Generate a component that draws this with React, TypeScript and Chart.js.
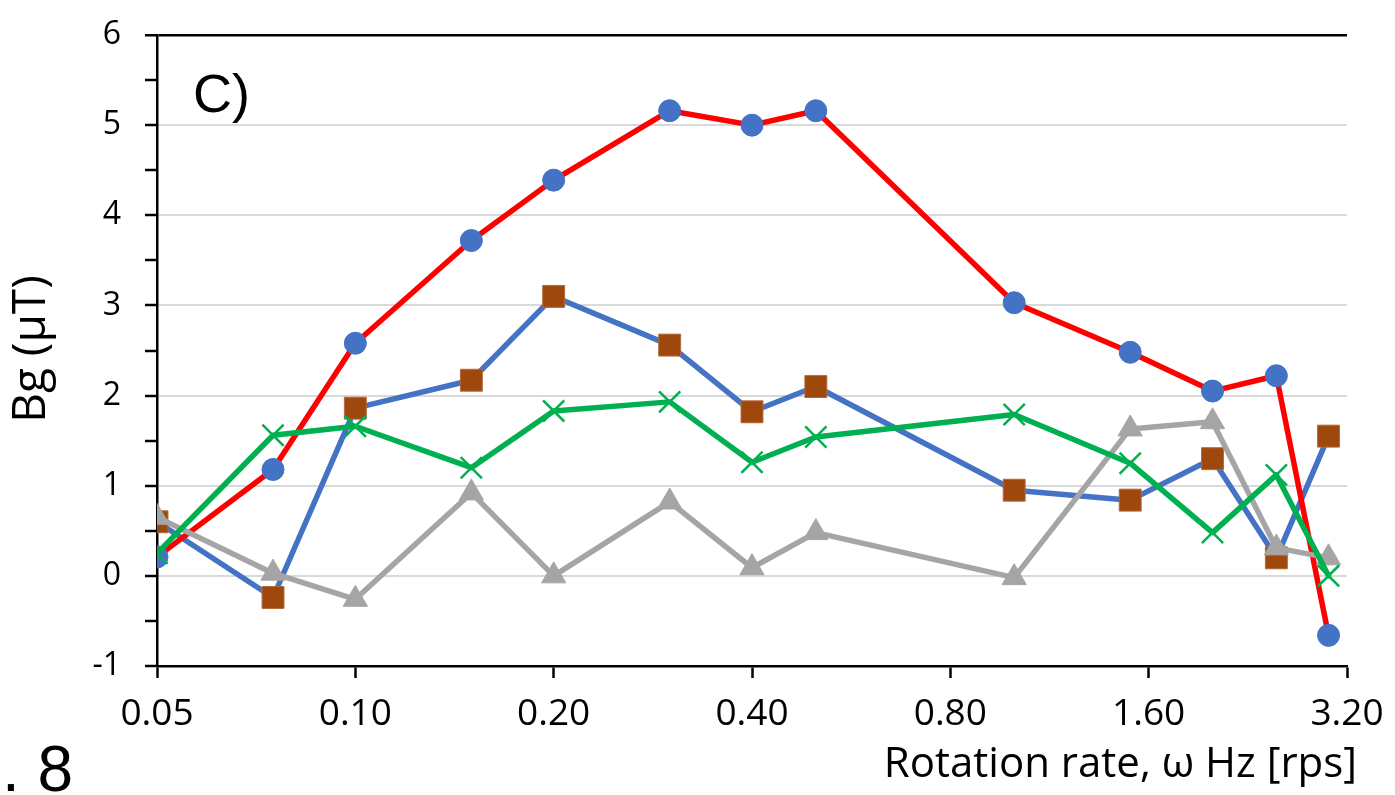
import React, { useEffect, useRef } from 'react';
import { Chart, registerables } from 'chart.js';

Chart.register(...registerables);

// Rotation rate (Hz) for each measurement
const X_VALUES = [0.05, 0.075, 0.1, 0.15, 0.2, 0.3, 0.4, 0.5, 1.0, 1.5, 2.0, 2.5, 3.0];
// Tick labels on the log2 x-axis
const X_TICKS = [0.05, 0.1, 0.2, 0.4, 0.8, 1.6, 3.2];
// Series values (Bg, µT)
const CIRCLES_RED = [0.21, 1.18, 2.58, 3.72, 4.39, 5.16, 5.0, 5.16, 3.03, 2.48, 2.05, 2.22, -0.66];
const SQUARES_BLUE = [0.6, -0.24, 1.86, 2.17, 3.1, 2.56, 1.82, 2.1, 0.95, 0.84, 1.3, 0.2, 1.55];
const TRIANGLES_GRAY = [0.65, 0.03, -0.26, 0.92, 0.0, 0.82, 0.09, 0.48, -0.02, 1.63, 1.71, 0.31, 0.2];
const CROSSES_GREEN = [0.25, 1.56, 1.66, 1.2, 1.83, 1.93, 1.26, 1.54, 1.79, 1.25, 0.48, 1.12, 0.0];
// Y axis
const Y_MIN = -1;
const Y_MAX = 6;

const FONT = "'Open Sans', sans-serif";
const ARIAL = "'Liberation Sans', Arial, sans-serif";

const toPoints = (vals: number[]) => X_VALUES.map((x, i) => ({ x, y: vals[i] }));

const textPlugin = {
  id: 'extraText',
  afterDraw(chart: any) {
    const ctx = chart.ctx as CanvasRenderingContext2D;
    ctx.save();
    ctx.fillStyle = '#000';
    // Panel label
    ctx.font = `54px ${ARIAL}`;
    ctx.textAlign = 'left';
    ctx.textBaseline = 'alphabetic';
    ctx.fillText('C)', 193, 112);
    // Fragment at bottom-left
    ctx.font = `64px ${ARIAL}`;
    ctx.fillText('. 8', 2, 791);
    // X axis title
    ctx.font = `42px ${FONT}`;
    ctx.textAlign = 'right';
    ctx.fillText('Rotation rate, ω Hz [rps]', 1357, 777);
    // Y axis title
    ctx.translate(45, 349);
    ctx.rotate(-Math.PI / 2);
    ctx.textAlign = 'center';
    ctx.font = `46px ${FONT}`;
    ctx.fillText('Bg (μT)', 0, 0);
    ctx.restore();
  },
};

export default function App() {
  const ref = useRef<HTMLCanvasElement | null>(null);

  useEffect(() => {
    if (!ref.current) return;
    const chart = new Chart(ref.current, {
      type: 'line',
      data: {
        datasets: [
          {
            label: 'crosses',
            data: toPoints(CROSSES_GREEN),
            borderColor: '#00b050',
            borderWidth: 5.5,
            pointStyle: 'crossRot',
            pointRadius: 15,
            pointBorderColor: '#00b050',
            pointBorderWidth: 2.5,
            pointBackgroundColor: '#00b050',
          },
          {
            label: 'triangles',
            data: toPoints(TRIANGLES_GRAY),
            borderColor: '#a5a5a5',
            borderWidth: 5.5,
            pointStyle: 'triangle',
            pointRadius: 14,
            pointBorderColor: '#a5a5a5',
            pointBorderWidth: 1,
            pointBackgroundColor: '#a5a5a5',
          },
          {
            label: 'circles',
            data: toPoints(CIRCLES_RED),
            borderColor: '#ff0000',
            borderWidth: 5.5,
            pointStyle: 'circle',
            pointRadius: 11,
            pointBorderColor: '#4472c4',
            pointBorderWidth: 1,
            pointBackgroundColor: '#4472c4',
          },
          {
            label: 'squares',
            data: toPoints(SQUARES_BLUE),
            borderColor: '#4472c4',
            borderWidth: 5.5,
            pointStyle: 'rect',
            pointRadius: 15.5,
            pointBorderColor: '#b5693a',
            pointBorderWidth: 1,
            pointBackgroundColor: '#9e480e',
          },
        ],
      },
      options: {
        responsive: false,
        maintainAspectRatio: false,
        animation: false,
        devicePixelRatio: 1,
        layout: { padding: { top: 35, right: 48, left: 0, bottom: 0 } },
        plugins: {
          legend: { display: false },
          tooltip: { enabled: false },
          title: { display: false },
        },
        elements: { line: { tension: 0, borderJoinStyle: 'round', borderCapStyle: 'round' } },
        scales: {
          x: {
            type: 'logarithmic',
            position: 'bottom',
            min: 0.05,
            max: 3.2,
            afterBuildTicks: (s: any) => {
              s.ticks = X_TICKS.map((v) => ({ value: v }));
            },
            afterFit: (s: any) => {
              s.height = 129;
              s.paddingLeft = 0;
              s.paddingRight = 0;
            },
            ticks: {
              callback: (v: any) => Number(v).toFixed(2),
              font: { family: FONT, size: 37 },
              color: '#000',
              padding: 14,
              maxRotation: 0,
              autoSkip: false,
            },
            grid: {
              drawOnChartArea: false,
              tickLength: 12,
              tickColor: '#000',
              tickWidth: 2.5,
            },
            border: { color: '#000', width: 2.5 },
          },
          y: {
            min: Y_MIN,
            max: Y_MAX,
            afterFit: (s: any) => {
              s.width = 157;
              s.paddingTop = 0;
              s.paddingBottom = 0;
            },
            ticks: {
              stepSize: 0.5,
              autoSkip: false,
              callback: (v: any) => (Number.isInteger(Number(v)) ? String(v) : ''),
              font: { family: FONT, size: 32 },
              color: '#000',
              padding: 24,
            },
            grid: {
              color: (c: any) => {
                const v = c.tick ? c.tick.value : NaN;
                if (v === Y_MAX) return '#000';
                if (Number.isInteger(v) && v > Y_MIN) return '#d9d9d9';
                return 'rgba(0,0,0,0)';
              },
              lineWidth: (c: any) => (c.tick && c.tick.value === Y_MAX ? 2.5 : 2),
              tickLength: 12,
              tickColor: '#000',
              tickWidth: 2.5,
            },
            border: { color: '#000', width: 2.5 },
          },
        },
      },
      plugins: [textPlugin],
    } as any);
    return () => chart.destroy();
  }, []);

  return (
    <div style={{ position: 'fixed', left: 0, top: 0, width: 1395, height: 795, background: '#fff' }}>
      <canvas ref={ref} width={1395} height={795} style={{ display: 'block' }} />
    </div>
  );
}
